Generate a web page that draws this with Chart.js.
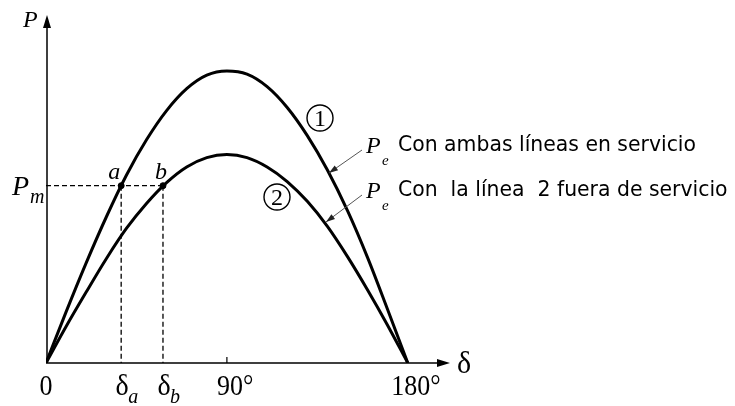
<!DOCTYPE html>
<html>
<head>
<meta charset="utf-8">
<script src="https://cdn.jsdelivr.net/npm/chart.js@4/dist/chart.umd.min.js"></script>
<style>
  html, body { margin: 0; padding: 0; background: #fff; }
  canvas { display: block; }
</style>
</head>
<body>
<canvas id="powerAngleChart" width="735" height="406"></canvas>
<script>
// Power-angle curves, load angle in degrees
const angles = [0, 10, 20, 30, 40, 50, 60, 70, 80, 90, 100, 110, 120, 130, 140, 150, 160, 170, 180];
const bothLines = [0, 0.49, 0.96, 1.40, 1.80, 2.14, 2.42, 2.63, 2.76, 2.80, 2.77, 2.65, 2.45, 2.18, 1.85, 1.46, 1.01, 0.51, 0];
const lineTwoOut = [0, 0.35, 0.68, 1.00, 1.29, 1.53, 1.73, 1.88, 1.97, 2.00, 1.97, 1.88, 1.74, 1.55, 1.31, 1.02, 0.70, 0.36, 0];

// Mechanical power and the two operating angles
const pm = 1.7;
const deltaA = 37.4;
const deltaB = 58.2;

const tickValues = [0, deltaA, deltaB, 90, 180];

const SERIF = '"Liberation Serif", "DejaVu Serif", serif';
const SANS = '"DejaVu Sans", sans-serif';

function toPoints(xs, ys) {
    return xs.map((x, i) => ({ x: x, y: ys[i] }));
}

function arrowHead(ctx, x1, y1, x2, y2, len, half) {
    const ang = Math.atan2(y2 - y1, x2 - x1);
    ctx.beginPath();
    ctx.moveTo(x2, y2);
    ctx.lineTo(x2 - len * Math.cos(ang) + half * Math.sin(ang), y2 - len * Math.sin(ang) - half * Math.cos(ang));
    ctx.lineTo(x2 - len * Math.cos(ang) - half * Math.sin(ang), y2 - len * Math.sin(ang) + half * Math.cos(ang));
    ctx.closePath();
    ctx.fill();
}

// serif text stretched a bit vertically (narrow typeset look)
function tallText(ctx, txt, x, y, stretch) {
    ctx.save();
    ctx.translate(x, y);
    ctx.scale(1, stretch);
    ctx.fillText(txt, 0, 0);
    ctx.restore();
}

// Axes with arrows, drawn under the curves
const axesPlugin = {
    id: 'axes',
    beforeDatasetsDraw(chart) {
        const { ctx, chartArea, scales } = chart;
        const x0 = scales.x.getPixelForValue(0);
        const y0 = scales.y.getPixelForValue(0);
        ctx.save();
        ctx.strokeStyle = '#000';
        ctx.fillStyle = '#000';
        ctx.lineWidth = 1.5;
        ctx.beginPath();
        ctx.moveTo(x0, y0);
        ctx.lineTo(chartArea.right - 6, y0);
        ctx.moveTo(x0 + 1, y0);
        ctx.lineTo(x0 + 1, chartArea.top + 6);
        ctx.stroke();
        arrowHead(ctx, x0, y0, chartArea.right, y0, 13, 4);
        arrowHead(ctx, x0 + 1, y0, x0 + 1, chartArea.top, 13, 4);

        // small tick at 90 degrees
        const x90 = scales.x.getPixelForValue(90);
        ctx.lineWidth = 1.2;
        ctx.beginPath();
        ctx.moveTo(x90, y0);
        ctx.lineTo(x90, y0 - 6);
        ctx.stroke();
        ctx.restore();
    }
};

// Text labels, subscripts and pointer arrows
const labelPlugin = {
    id: 'labels',
    afterDraw(chart) {
        const { ctx, scales } = chart;
        const xs = scales.x, ys = scales.y;
        const y0 = ys.getPixelForValue(0);
        const yPm = ys.getPixelForValue(pm);
        const xA = xs.getPixelForValue(deltaA);
        const xB = xs.getPixelForValue(deltaB);

        ctx.save();
        ctx.fillStyle = '#000';
        ctx.strokeStyle = '#000';
        ctx.textBaseline = 'alphabetic';

        // axis names
        ctx.font = 'italic 24px ' + SERIF;
        ctx.textAlign = 'left';
        ctx.fillText('P', 23, 27);
        ctx.font = '30px ' + SERIF;
        tallText(ctx, 'δ', 457, y0 + 10, 1.08);

        // P_m on the vertical axis
        ctx.font = 'italic 28px ' + SERIF;
        ctx.fillText('P', 12, yPm + 9.5);
        ctx.font = 'italic 20px ' + SERIF;
        ctx.fillText('m', 30, yPm + 17);

        // operating points a, b
        ctx.font = 'italic 24px ' + SERIF;
        ctx.textAlign = 'center';
        ctx.fillText('a', xA - 7, yPm - 7);
        ctx.fillText('b', xB - 2, yPm - 7);

        // tick labels along the angle axis
        const base = y0 + 32;
        const st = 1.15;
        ctx.font = '26px ' + SERIF;
        ctx.textAlign = 'center';
        tallText(ctx, '0', xs.getPixelForValue(tickValues[0]), base, st);
        ctx.font = '28px ' + SERIF;
        tallText(ctx, 'δ', xA + 1, base, 1.08);
        tallText(ctx, 'δ', xB + 1, base, 1.08);
        ctx.font = 'italic 20px ' + SERIF;
        ctx.textAlign = 'left';
        ctx.fillText('a', xA + 7, base + 8);
        ctx.fillText('b', xB + 7, base + 8);

        ctx.font = '26px ' + SERIF;
        [90, 180].forEach(v => {
            const px = xs.getPixelForValue(v) + 3;
            const num = String(v);
            const w = ctx.measureText(num).width;
            ctx.textAlign = 'center';
            tallText(ctx, num, px, base, st);
            ctx.textAlign = 'left';
            tallText(ctx, '°', px + w / 2, base, st);
        });

        // circled curve numbers
        ctx.lineWidth = 1.4;
        [[320, 118, '1'], [277, 197, '2']].forEach(([cx, cy, t]) => {
            ctx.beginPath();
            ctx.arc(cx, cy, 13, 0, Math.PI * 2);
            ctx.stroke();
            ctx.font = '24px ' + SERIF;
            ctx.textAlign = 'center';
            ctx.fillText(t, cx, cy + 8);
        });

        // pointer arrows to the curves
        ctx.strokeStyle = '#555';
        ctx.fillStyle = '#222';
        ctx.lineWidth = 1;
        [[362, 150, 329, 173], [362, 195, 326, 222]].forEach(([x1, y1, x2, y2]) => {
            ctx.beginPath();
            ctx.moveTo(x1, y1);
            ctx.lineTo(x2, y2);
            ctx.stroke();
            arrowHead(ctx, x1, y1, x2, y2, 9, 3);
        });

        // P_e legends
        ctx.fillStyle = '#000';
        [[153, 'Con ambas líneas en servicio'], [198, 'Con  la línea  2 fuera de servicio']].forEach(([by, txt]) => {
            ctx.textAlign = 'left';
            ctx.font = 'italic 24px ' + SERIF;
            ctx.fillText('P', 366, by);
            ctx.font = 'italic 15px ' + SERIF;
            ctx.fillText('e', 382, by + 12);
            ctx.font = '20.4px ' + SANS;
            ctx.fillText(txt, 398, by - 2);
        });

        ctx.restore();
    }
};

const dashed = {
    borderColor: '#000',
    borderWidth: 1.3,
    borderDash: [5, 3],
    pointRadius: 0,
    showLine: true,
    fill: false
};

new Chart(document.getElementById('powerAngleChart'), {
    type: 'scatter',
    data: {
        datasets: [
            {
                label: 'Con ambas líneas en servicio',
                data: toPoints(angles, bothLines),
                borderColor: '#000',
                borderWidth: 3,
                pointRadius: 0,
                showLine: true,
                cubicInterpolationMode: 'monotone'
            },
            {
                label: 'Con la línea 2 fuera de servicio',
                data: toPoints(angles, lineTwoOut),
                borderColor: '#000',
                borderWidth: 3,
                pointRadius: 0,
                showLine: true,
                cubicInterpolationMode: 'monotone'
            },
            Object.assign({ data: [{ x: 0, y: pm }, { x: deltaB, y: pm }] }, dashed),
            Object.assign({ data: [{ x: deltaA, y: pm }, { x: deltaA, y: 0 }] }, dashed),
            Object.assign({ data: [{ x: deltaB, y: pm }, { x: deltaB, y: 0 }] }, dashed),
            {
                data: [{ x: deltaA, y: pm }, { x: deltaB, y: pm }],
                pointRadius: 3,
                pointBackgroundColor: '#000',
                pointBorderColor: '#000',
                showLine: false
            }
        ]
    },
    options: {
        responsive: false,
        animation: false,
        layout: { padding: { left: 46, right: 285, top: 15, bottom: 43 } },
        scales: {
            x: { type: 'linear', min: 0, max: 201, display: false },
            y: { type: 'linear', min: 0, max: 3.337, display: false }
        },
        plugins: {
            legend: { display: false },
            tooltip: { enabled: false }
        }
    },
    plugins: [axesPlugin, labelPlugin]
});
</script>
</body>
</html>
